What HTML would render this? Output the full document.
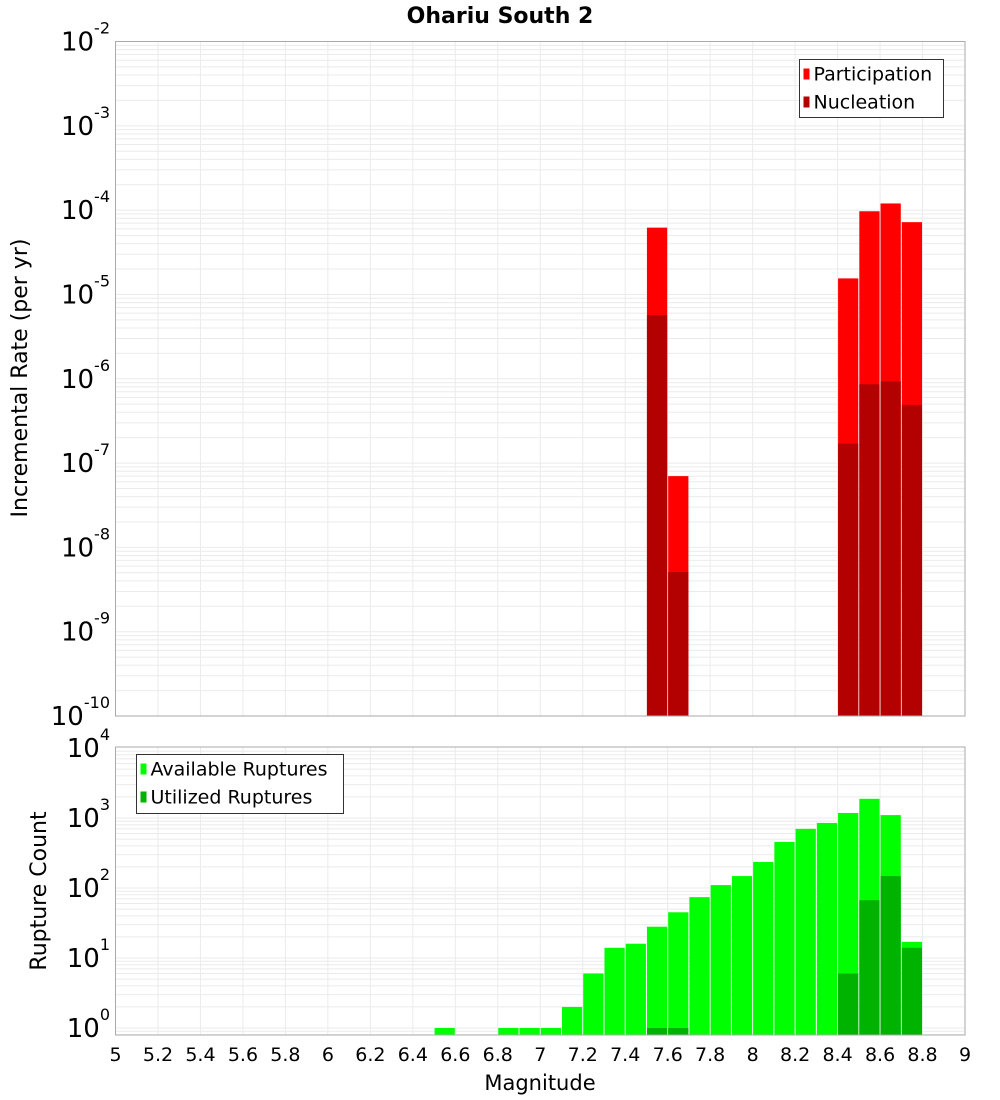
<!DOCTYPE html>
<html><head><meta charset="utf-8"><style>
body{margin:0;background:#fff;}
svg{display:block;font-family:"DejaVu Sans","Liberation Sans",sans-serif;}
</style></head><body>
<svg id="c" width="1000" height="1100" viewBox="0 0 1000 1100"></svg>
<script>
const binCentersTop = [7.55, 7.65, 8.45, 8.55, 8.65, 8.75];
const participation = [6.2e-5, 7e-8, 1.55e-5, 9.7e-5, 1.2e-4, 7.2e-5];
const nucleation = [5.7e-6, 5.1e-9, 1.7e-7, 8.6e-7, 9.3e-7, 4.9e-7];
const binCentersBot = [6.55, 6.85, 6.95, 7.05, 7.15, 7.25, 7.35, 7.45, 7.55, 7.65, 7.75, 7.85, 7.95, 8.05, 8.15, 8.25, 8.35, 8.45, 8.55, 8.65, 8.75];
const available = [1, 1, 1, 1, 2, 6, 14, 16, 28, 45, 74, 110, 148, 235, 455, 700, 850, 1180, 1880, 1100, 17];
const utilizedBins = [7.55, 7.65, 8.45, 8.55, 8.65, 8.75];
const utilized = [1, 1, 6, 67, 148, 14];
const xTicks = [5, 5.2, 5.4, 5.6, 5.8, 6, 6.2, 6.4, 6.6, 6.8, 7, 7.2, 7.4, 7.6, 7.8, 8, 8.2, 8.4, 8.6, 8.8, 9];
const topExp = [-2, -3, -4, -5, -6, -7, -8, -9, -10];
const botExp = [4, 3, 2, 1, 0];

const NS = "http://www.w3.org/2000/svg";
const svg = document.getElementById('c');
function el(tag, attrs, parent) {
  const e = document.createElementNS(NS, tag);
  for (const k in attrs) e.setAttribute(k, attrs[k]);
  (parent || svg).appendChild(e);
  return e;
}
const X0 = 115.5, X1 = 965;
const xs = m => X0 + (m - 5) / 4 * (X1 - X0);
// top axis
const T0 = 41.5, T1 = 716;
const yTop = v => T0 + (-2 - Math.log10(v)) / 8 * (T1 - T0);
// bottom axis
const B0 = 747, B1 = 1035;
const DEC = 70, LMIN = -0.1;
const yBot = v => B1 - (Math.log10(v) - LMIN) * DEC;

function grid(y0, y1, ylog, lo, hi) {
  const g = el('g', {});
  
  
  for (let e = lo; e < hi; e++) for (let k = 1; k < 10; k++) {
    const y = ylog(k * Math.pow(10, e));
    if (y >= y0 - 0.1 && y <= y1 + 0.1) el('line', {x1: X0, x2: X1, y1: y, y2: y, stroke: '#ebebeb', 'stroke-width': 1}, g);
  }
  xTicks.forEach(t => el('line', {x1: xs(t), x2: xs(t), y1: y0, y2: y1, stroke: '#ebebeb', 'stroke-width': 1}, g));
}
grid(T0, T1, yTop, -10, -2);
grid(B0, B1, yBot, -1, 4);

function bar(m, v, ylog, base, color, name) {
  const x = xs(m - 0.05) + 0.5, w = xs(m + 0.05) - xs(m - 0.05) - 1;
  const y = ylog(v);
  const r = el('rect', {x: x, y: y, width: w, height: base - y, fill: color});
  
  
}
binCentersTop.forEach((m, i) => bar(m, participation[i], yTop, T1, '#ff0000', 'participation-bar'));
binCentersTop.forEach((m, i) => bar(m, nucleation[i], yTop, T1, '#b30000', 'nucleation-bar'));
binCentersBot.forEach((m, i) => bar(m, available[i], yBot, B1, '#00ff00', 'available-bar'));
utilizedBins.forEach((m, i) => bar(m, utilized[i], yBot, B1, '#00b300', 'utilized-bar'));

// frames
const f1 = el('rect', {x: X0, y: T0, width: X1 - X0, height: T1 - T0, fill: 'none', stroke: '#aaa'});


const f2 = el('rect', {x: X0, y: B0, width: X1 - X0, height: B1 - B0, fill: 'none', stroke: '#aaa'});



function ylabel(y, e, name) {
  const t = el('text', {x: 110, y: y + 9, 'text-anchor': 'end', 'font-size': 26, fill: '#000'});
  
  
  const a = el('tspan', {}, t); a.textContent = '10';
  const b = el('tspan', {dy: -17, 'font-size': 16}, t); b.textContent = String(e);
}
topExp.forEach(e => ylabel(yTop(Math.pow(10, e)), e, 'y-tick-label'));
botExp.forEach(e => ylabel(yBot(Math.pow(10, e)), e, 'y-tick-label'));

xTicks.forEach(t => {
  const tx = el('text', {x: xs(t), y: 1061, 'text-anchor': 'middle', 'font-size': 19, fill: '#000'});
  
  
  tx.textContent = String(t);
});

function text(x, y, s, size, name, extra) {
  const t = el('text', Object.assign({x: x, y: y, 'font-size': size, fill: '#000'}, extra || {}));
  
  
  t.textContent = s;
  return t;
}
text(500, 23, 'Ohariu South 2', 22, 'chart-title', {'text-anchor': 'middle', 'font-weight': 'bold'});
text(540, 1090, 'Magnitude', 21, 'x-axis-title', {'text-anchor': 'middle'});
text(27, 378, 'Incremental Rate (per yr)', 22, 'y-axis-title-top', {'text-anchor': 'middle', transform: 'rotate(-90 27 378)'});
text(46, 891, 'Rupture Count', 22, 'y-axis-title-bottom', {'text-anchor': 'middle', transform: 'rotate(-90 46 891)'});

function legend(x, y, w, h, items, name) {
  const g = el('g', {});
  
  
  el('rect', {x: x, y: y, width: w, height: h, fill: '#fff', stroke: '#333', 'stroke-width': 1}, g);
  items.forEach((it, i) => {
    const cy = y + 14 + i * 28;
    const sw = el('rect', {x: x + 4, y: cy - 5, width: 6, height: 11, fill: it[1]}, g);
    
    
    const t = el('text', {x: x + 14, y: cy + 7, 'font-size': 19, fill: '#000'}, g);
    
    
    t.textContent = it[0];
  });
}
legend(799.5, 59.5, 144, 58, [['Participation', '#ff0000'], ['Nucleation', '#b30000']], 'top-legend');
legend(136.5, 754.5, 207, 59, [['Available Ruptures', '#00ff00'], ['Utilized Ruptures', '#00b300']], 'bottom-legend');
</script>
</body></html>
